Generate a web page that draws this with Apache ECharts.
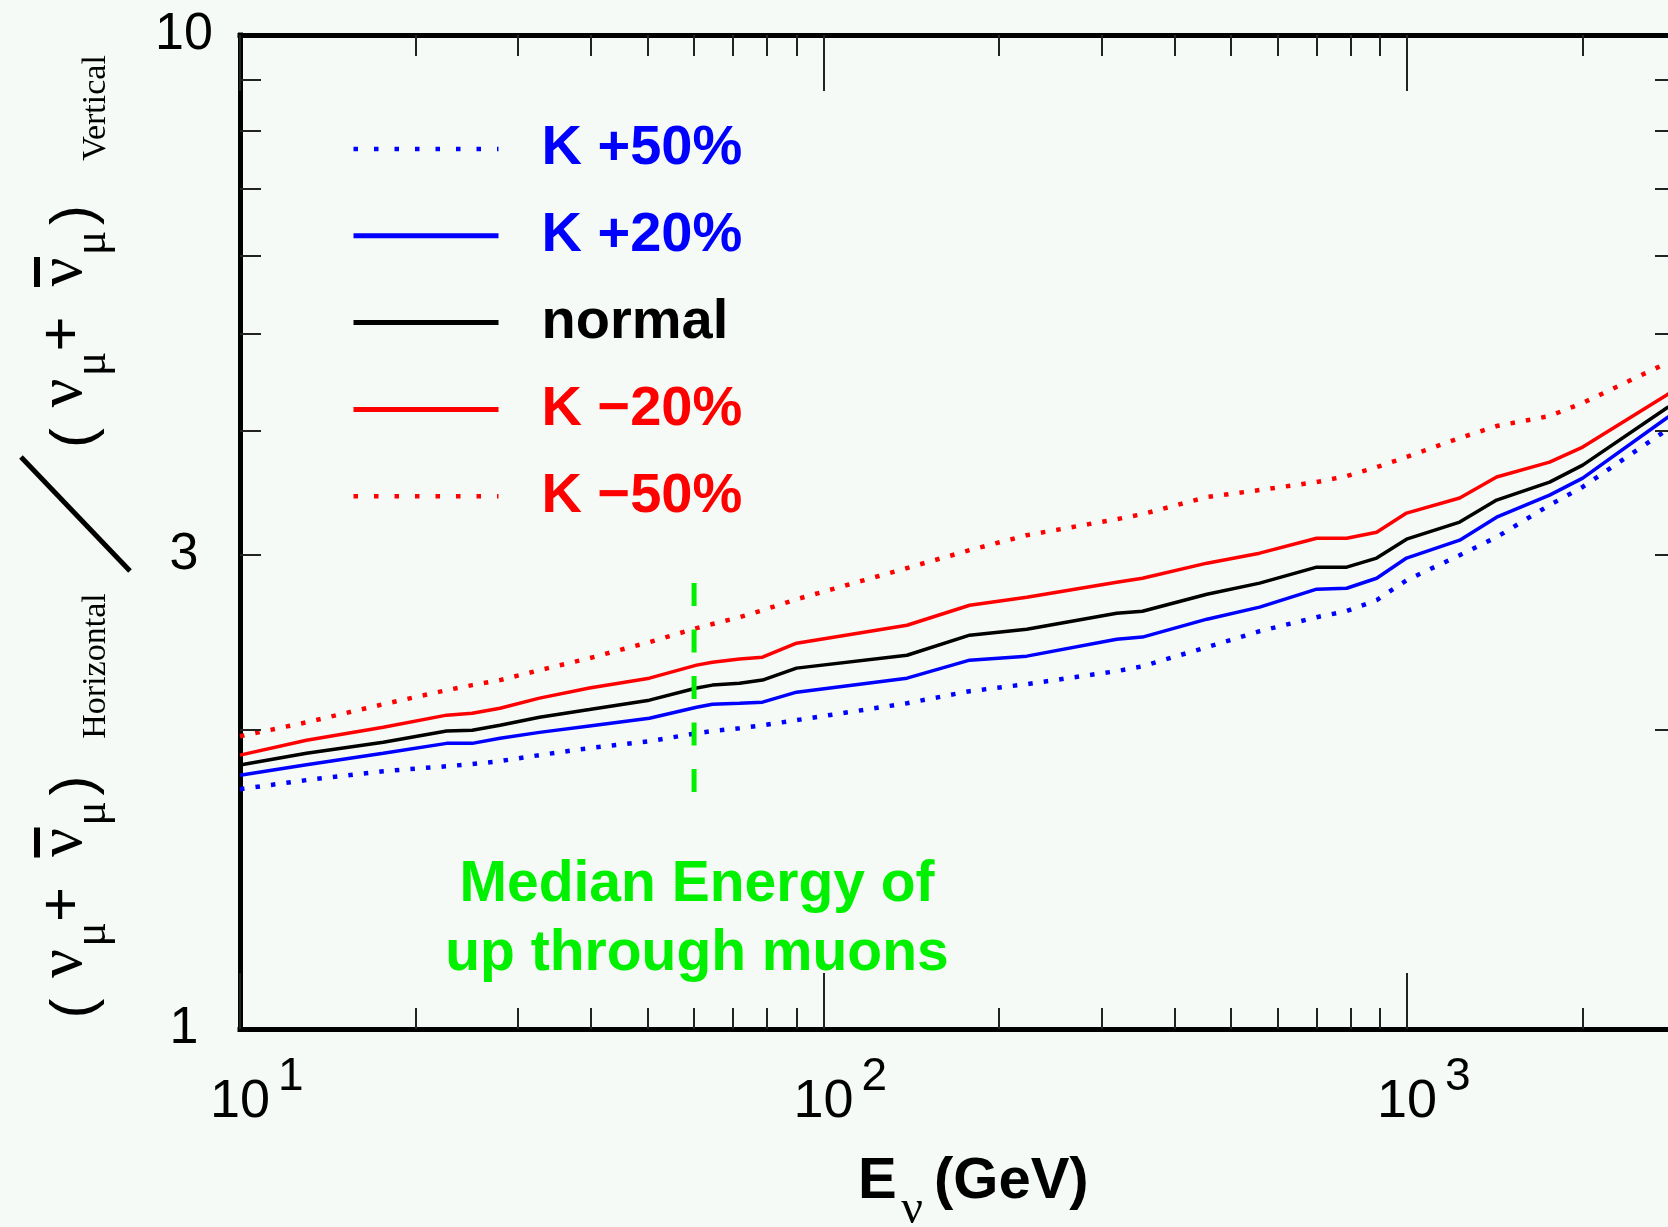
<!DOCTYPE html>
<html>
<head>
<meta charset="utf-8">
<script src="https://cdn.jsdelivr.net/npm/echarts@6/dist/echarts.min.js"></script>
<style>
html,body{margin:0;padding:0;background:#f5faf7;}
#chart{width:1668px;height:1227px;}
</style>
</head>
<body>
<div id="chart"></div>
<script>
// ---------------- data ----------------
const energies = [10, 13, 17.6, 22.6, 25, 27.9, 32.6, 39.7, 50.3, 60.6, 64.5, 71.8, 78.6, 89.9, 139, 178, 223, 318, 352, 454, 559, 700, 788, 887, 998, 1231, 1424, 1755, 2000, 2786, 2890];
const kPlus50  = [1.743, 1.780, 1.817, 1.838, 1.847, 1.860, 1.886, 1.917, 1.948, 1.984, 1.994, 2.007, 2.021, 2.045, 2.127, 2.187, 2.223, 2.291, 2.317, 2.422, 2.513, 2.596, 2.633, 2.701, 2.828, 2.997, 3.125, 3.366, 3.510, 4.005, 4.061];
const kPlus20  = [1.800, 1.844, 1.894, 1.938, 1.938, 1.961, 1.988, 2.018, 2.054, 2.107, 2.122, 2.127, 2.132, 2.182, 2.254, 2.350, 2.372, 2.467, 2.479, 2.584, 2.657, 2.770, 2.776, 2.841, 2.977, 3.103, 3.273, 3.444, 3.583, 4.118, 4.176];
const normal   = [1.843, 1.894, 1.943, 1.994, 1.998, 2.021, 2.059, 2.096, 2.142, 2.203, 2.218, 2.228, 2.244, 2.307, 2.377, 2.490, 2.525, 2.620, 2.632, 2.738, 2.809, 2.915, 2.915, 2.977, 3.110, 3.236, 3.405, 3.550, 3.692, 4.214, 4.273];
const kMinus20 = [1.886, 1.952, 2.012, 2.069, 2.078, 2.102, 2.152, 2.203, 2.254, 2.323, 2.339, 2.356, 2.366, 2.444, 2.548, 2.669, 2.719, 2.815, 2.841, 2.942, 3.011, 3.117, 3.117, 3.161, 3.304, 3.421, 3.592, 3.718, 3.850, 4.343, 4.404];
const kMinus50 = [1.970, 2.035, 2.122, 2.192, 2.218, 2.244, 2.296, 2.361, 2.450, 2.531, 2.555, 2.596, 2.638, 2.706, 2.909, 3.032, 3.139, 3.258, 3.296, 3.429, 3.485, 3.550, 3.600, 3.675, 3.762, 3.931, 4.042, 4.137, 4.264, 4.677, 4.720];

const seriesNames = ['K +50%', 'K +20%', 'normal', 'K \u221220%', 'K \u221250%'];
const medianEnergy = 60;
const medianRange = [2.81, 1.73];

const xLabelValues = [10, 100, 1000];
const xMinorTicks = [20, 30, 40, 50, 60, 70, 80, 90, 200, 300, 400, 500, 600, 700, 800, 900, 2000];
const yLabelValues = [1, 3, 10];
const yMinorTicks = [2, 3, 4, 5, 6, 7, 8, 9];

const xMin = 10, xMax = 2890, yMin = 1, yMax = 10;

// ---------------- chart ----------------
const BLUE = '#0000ff', RED = '#ff0000', BLACK = '#000000', GREEN = '#00f000';
const SANS = 'Liberation Sans, Arial, Helvetica, sans-serif';
const SERIF = 'Liberation Serif, Times New Roman, serif';
const DOTS = [4.5, 11.1];
const LEGEND_DOTS = [4.5, 16];
const pairs = arr => energies.map((e, i) => [e, arr[i]]);

function curve(name, arr, color, dotted) {
  return {
    type: 'line', name, data: pairs(arr), symbol: 'none', showSymbol: false,
    smooth: false, silent: true, z: 3,
    emphasis: { disabled: true },
    itemStyle: { color },
    lineStyle: { color, width: dotted ? 4.5 : 3.5, type: dotted ? DOTS : 'solid', cap: 'butt' }
  };
}

function txt(text, x, y, size, family, color, weight, align) {
  return {
    type: 'text', x, y, silent: true,
    style: {
      text, fill: color, fontSize: size, fontFamily: family, fontWeight: weight || 'normal',
      align: align || 'center', verticalAlign: 'middle',
      textAlign: align || 'center', textVerticalAlign: 'middle'
    }
  };
}

// neutrino fraction pieces in the rotated frame (u along reading direction, v across)
function nuGroup(u0) {
  return [
    txt('(', u0, 75, 60, SANS, BLACK),
    txt('\u03bd', u0 + 45, 64, 64, SERIF, BLACK),
    txt('\u03bc', u0 + 74, 93, 46, SERIF, BLACK),
    txt('+', u0 + 104, 63, 60, SANS, BLACK),
    txt('\u03bd', u0 + 166, 64, 64, SERIF, BLACK),
    { type: 'rect', silent: true, shape: { x: u0 + 151, y: 34, width: 30, height: 6 }, style: { fill: BLACK } },
    txt('\u03bc', u0 + 195, 93, 46, SERIF, BLACK),
    txt(')', u0 + 223, 75, 60, SANS, BLACK)
  ];
}

const tickStyle = { stroke: '#222', lineWidth: 2 };

const option = {
  backgroundColor: '#f5faf7',
  animation: false,
  grid: { left: 240, top: 35, right: -8, bottom: 198, containLabel: false, outerBoundsMode: 'none' },
  xAxis: [
    {
      type: 'log', logBase: 10, min: xMin, max: xMax, position: 'bottom',
      axisLine: { show: true, onZero: false, lineStyle: { color: BLACK, width: 5, cap: 'square' } },
      axisTick: { show: true, inside: true, length: 56, lineStyle: { color: '#222', width: 2 } },
      axisLabel: { show: false }, splitLine: { show: false }, minorTick: { show: false }
    },
    {
      type: 'log', logBase: 10, min: xMin, max: xMax, position: 'top',
      axisLine: { show: true, onZero: false, lineStyle: { color: BLACK, width: 5, cap: 'square' } },
      axisTick: { show: true, inside: true, length: 56, lineStyle: { color: '#222', width: 2 } },
      axisLabel: { show: false }, splitLine: { show: false }
    }
  ],
  yAxis: [{
    type: 'log', logBase: 10, min: yMin, max: yMax, position: 'left',
    axisLine: { show: true, onZero: false, lineStyle: { color: BLACK, width: 5, cap: 'square' } },
    axisTick: { show: false }, axisLabel: { show: false }, splitLine: { show: false }
  }],
  legend: {
    orient: 'vertical', left: 351, top: 121, padding: 0,
    itemWidth: 145, itemHeight: 14, itemGap: 30.8, selectedMode: false,
    itemStyle: { opacity: 0 },
    lineStyle: { width: 5 },
    textStyle: { fontSize: 56, fontWeight: 'bold', fontFamily: SANS, lineHeight: 56, padding: [0, 0, 0, 38] },
    data: [
      { name: seriesNames[0], textStyle: { color: BLUE }, lineStyle: { type: LEGEND_DOTS, width: 4.5 } },
      { name: seriesNames[1], textStyle: { color: BLUE }, lineStyle: { width: 5 } },
      { name: seriesNames[2], textStyle: { color: BLACK }, lineStyle: { width: 5 } },
      { name: seriesNames[3], textStyle: { color: RED }, lineStyle: { width: 5 } },
      { name: seriesNames[4], textStyle: { color: RED }, lineStyle: { type: LEGEND_DOTS, width: 4.5 } }
    ]
  },
  series: [
    curve(seriesNames[0], kPlus50, BLUE, true),
    curve(seriesNames[1], kPlus20, BLUE, false),
    curve(seriesNames[2], normal, BLACK, false),
    curve(seriesNames[3], kMinus20, RED, false),
    curve(seriesNames[4], kMinus50, RED, true),
    {
      type: 'line', name: 'median', silent: true, symbol: 'none', z: 4,
      data: medianRange.map(v => [medianEnergy, v]),
      lineStyle: { color: GREEN, width: 5, type: [23, 23.5], cap: 'butt' },
      emphasis: { disabled: true }
    },
    {
      type: 'custom', name: 'xticks', silent: true, z: 5,
      data: xMinorTicks.map(v => [v, yMin]),
      renderItem(params, api) {
        const cs = params.coordSys;
        const x = Math.round(api.coord([api.value(0), yMin])[0]);
        return { type: 'group', children: [
          { type: 'line', shape: { x1: x, y1: cs.y, x2: x, y2: cs.y + 21 }, style: tickStyle },
          { type: 'line', shape: { x1: x, y1: cs.y + cs.height - 21, x2: x, y2: cs.y + cs.height }, style: tickStyle }
        ]};
      }
    },
    {
      type: 'custom', name: 'yticks', silent: true, z: 5,
      data: yMinorTicks.map(v => [xMin, v]),
      renderItem(params, api) {
        const cs = params.coordSys;
        const y = Math.round(api.coord([xMin, api.value(1)])[1]);
        return { type: 'group', children: [
          { type: 'line', shape: { x1: cs.x, y1: y, x2: cs.x + 21, y2: y }, style: tickStyle },
          { type: 'line', shape: { x1: cs.x + cs.width - 21, y1: y, x2: cs.x + cs.width, y2: y }, style: tickStyle }
        ]};
      }
    },
    {
      type: 'custom', name: 'ylabels', silent: true, z: 5, clip: false,
      data: yLabelValues.map(v => [xMin, v]),
      renderItem(params, api) {
        const cs = params.coordSys;
        const y = api.coord([xMin, api.value(1)])[1];
        return txt(String(api.value(1)), cs.x - 56, y, 52, SANS, BLACK);
      }
    },
    {
      type: 'custom', name: 'xlabels', silent: true, z: 5, clip: false,
      data: xLabelValues.map(v => [v, yMin]),
      renderItem(params, api) {
        const cs = params.coordSys;
        const v = api.value(0);
        const x = api.coord([v, yMin])[0];
        const base = cs.y + cs.height;
        const exp = String(Math.round(Math.log10(v)));
        return { type: 'group', children: [
          txt('10', x, base + 73, 54, SANS, BLACK),
          txt(exp, x + 38, base + 48, 46, SANS, BLACK, 'normal', 'left')
        ]};
      }
    }
  ],
  graphic: [
    // y-axis title (rotated)
    {
      type: 'group', x: 0, y: 1030, rotation: Math.PI / 2, silent: true,
      children: [].concat(
        nuGroup(21.5),
        [txt('Horizontal', 364, 96, 34, SERIF, BLACK)],
        nuGroup(592),
        [txt('Vertical', 922, 96, 34, SERIF, BLACK)]
      )
    },
    { type: 'line', silent: true, shape: { x1: 21, y1: 457, x2: 130, y2: 571 }, style: { stroke: BLACK, lineWidth: 5 } },
    // x-axis title
    txt('E', 858, 1182, 58, SANS, BLACK, 'bold', 'left'),
    txt('\u03bd', 912, 1210, 48, SERIF, BLACK),
    txt('(GeV)', 934, 1182, 58, SANS, BLACK, 'bold', 'left'),
    // annotation
    txt('Median Energy of', 697, 885, 57, SANS, GREEN, 'bold'),
    txt('up through muons', 697, 954, 57, SANS, GREEN, 'bold')
  ]
};

const chart = echarts.init(document.getElementById('chart'), null, { renderer: 'canvas' });
chart.setOption(option);
</script>
</body>
</html>
